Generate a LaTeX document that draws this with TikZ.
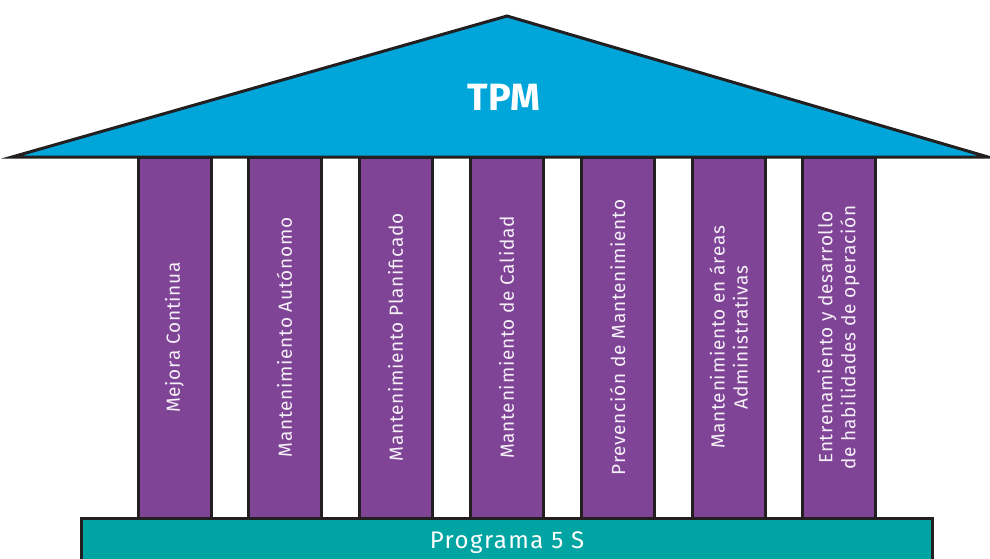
\documentclass[tikz,border=0pt]{standalone}
\usepackage{fontspec}
\setmainfont{Fira Sans}
\newfontfamily\pilarfont[LetterSpace=4]{Fira Sans}
\newfontfamily\basefont[LetterSpace=6]{Fira Sans}
\usepackage{tikz}
\usetikzlibrary{positioning}

\definecolor{roofblue}{HTML}{00A6DA}
\definecolor{pillarviolet}{HTML}{7F4496}
\definecolor{baseteal}{HTML}{00A5A3}
\definecolor{edgegray}{HTML}{231F20}

\tikzset{
	pilar/.style={draw=edgegray,line width=3pt,fill=pillarviolet,rotate=90,
		minimum width=361pt,minimum height=73pt,inner sep=0pt,align=center,
		text=white!92!pillarviolet,font=\pilarfont\fontsize{19}{23}\selectfont},
}

\begin{document}
\begin{tikzpicture}[x=1pt,y=-1pt]
			
			\useasboundingbox (0,0) rectangle (990,559);
			\begin{scope}
			\clip (0,0) rectangle (990,559);
			
			\draw[edgegray,line width=3pt,fill=roofblue,line join=miter] (12,157) -- (507,16) -- (988,157) -- cycle;
			\node[text=white,font=\fontsize{38}{42}\selectfont\bfseries] (tpm) at (504,97) {TPM};
			
			\node[pilar] (p1) at (174.5,337.5) {Mejora Continua};
			\node[pilar] (p2) at (284.5,337.5) {Mantenimiento Autónomo};
			\node[pilar] (p3) at (395.5,337.5) {Mantenimiento Planificado};
			\node[pilar] (p4) at (506.5,337.5) {Mantenimiento de Calidad};
			\node[pilar] (p5) at (617.5,337.5) {Prevención de Mantenimiento};
			\node[pilar] (p6) at (728.5,337.5) {Mantenimiento en áreas\\Administrativas};
			\node[pilar] (p7) at (838.5,337.5) {Entrenamiento y desarrollo\\de habilidades de operación};
			
			\draw[edgegray,line width=3pt,fill=baseteal] (81,518) rectangle (932,575);
			\node[text=white,font=\basefont\fontsize{24}{28}\selectfont] (base) at (507,543) {Programa 5 S};
			
			\end{scope}
			
		\end{tikzpicture}
\end{document}
